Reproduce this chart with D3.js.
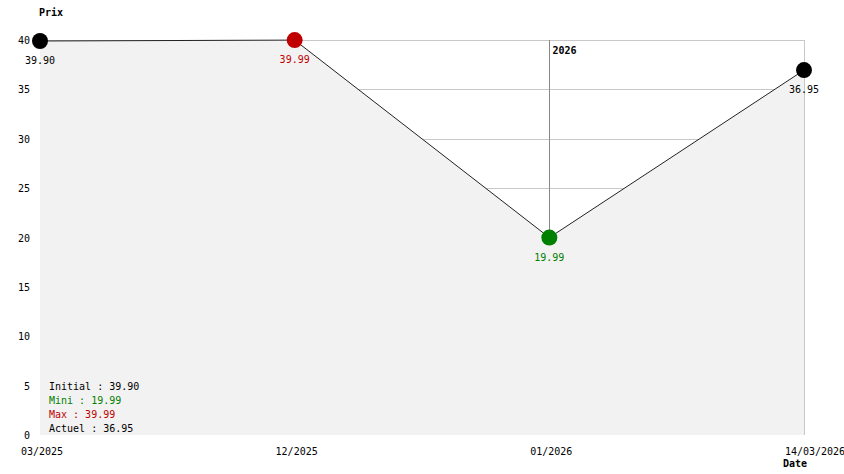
<!DOCTYPE html>
<html><head><meta charset="utf-8">
<script src="https://cdn.jsdelivr.net/npm/d3@7"></script>
<style>
html,body{margin:0;padding:0;background:#fff;}
svg{display:block;}
text{font-family:"DejaVu Sans Mono",monospace;font-size:10px;}
</style></head>
<body>
<svg id="c" width="844" height="474"></svg>
<script>
const dates = ["03/2025", "12/2025", "01/2026", "14/03/2026"];
const prices = [39.90, 39.99, 19.99, 36.95];
const markerColors = ["#000000", "#c00000", "#008000", "#000000"];
const yTicks = [0, 5, 10, 15, 20, 25, 30, 35, 40];
const legendLabels = ["Initial : 39.90", "Mini : 19.99", "Max : 39.99", "Actuel : 36.95"];
const legendColors = ["#000000", "#008000", "#c00000", "#000000"];
const yearMarks = [{date: "01/2026", label: "2026"}];

(function () {
const svg = d3.select("#c");
const pLeft = 40, pRight = 804, pTop = 40, pBottom = 435;
const x = d3.scalePoint().domain(dates).range([pLeft, pRight]);
const y = d3.scaleLinear().domain([0, 40]).range([pBottom, pTop]);

// gridlines
svg.append("g").selectAll("line").data(yTicks.filter(d => d > 0)).join("line")
  .attr("x1", pLeft).attr("x2", pRight)
  .attr("y1", d => Math.round(y(d)) + 0.5).attr("y2", d => Math.round(y(d)) + 0.5)
  .attr("stroke", "#c8c8c8").attr("stroke-width", 1);
// right border
svg.append("line").attr("x1", pRight + 0.5).attr("x2", pRight + 0.5)
  .attr("y1", pTop).attr("y2", pBottom).attr("stroke", "#c8c8c8");
// year marks
yearMarks.forEach(m => {
  const xx = Math.round(x(m.date)) + 0.5;
  svg.append("line").attr("x1", xx).attr("x2", xx).attr("y1", pTop).attr("y2", pBottom)
    .attr("stroke", "#888888");
  svg.append("text").attr("x", xx + 3).attr("y", pTop + 14)
    .attr("font-weight", "bold").attr("fill", "#000").text(m.label);
});

const pts = dates.map((d, i) => ({d, v: prices[i], c: markerColors[i]}));
// area
svg.append("path").datum(pts)
  .attr("d", d3.area().x(p => x(p.d)).y0(y(0)).y1(p => y(p.v)))
  .attr("fill", "#f2f2f2");
// line
svg.append("path").datum(pts)
  .attr("d", d3.line().x(p => x(p.d)).y(p => y(p.v)))
  .attr("fill", "none").attr("stroke", "#222").attr("stroke-width", 1);

// y axis labels
svg.append("g").selectAll("text").data(yTicks).join("text")
  .attr("x", 30).attr("y", d => y(d) + 4).attr("text-anchor", "end")
  .attr("fill", "#000").text(d => d);

// x labels
svg.append("g").selectAll("text").data(dates).join("text")
  .attr("x", (d, i) => x(d) + (i === dates.length - 1 ? 11 : 2))
  .attr("y", 455).attr("text-anchor", "middle").attr("fill", "#000").text(d => d);

// markers
svg.append("g").selectAll("circle").data(pts).join("circle")
  .attr("cx", p => x(p.d)).attr("cy", p => y(p.v)).attr("r", 8)
  .attr("fill", p => p.c);
svg.append("g").selectAll("text").data(pts).join("text")
  .attr("x", p => x(p.d)).attr("y", p => y(p.v) + 23)
  .attr("text-anchor", "middle").attr("fill", p => p.c)
  .text(p => p.v.toFixed(2));

// titles
svg.append("text").attr("x", 39).attr("y", 16).attr("font-weight", "bold").text("Prix");
svg.append("text").attr("x", 783).attr("y", 467).attr("font-weight", "bold").text("Date");

// legend
svg.append("g").selectAll("text").data(legendLabels).join("text")
  .attr("x", 49).attr("y", (d, i) => 390 + i * 14)
  .attr("fill", (d, i) => legendColors[i]).text(d => d);
})();
</script>
</body></html>
